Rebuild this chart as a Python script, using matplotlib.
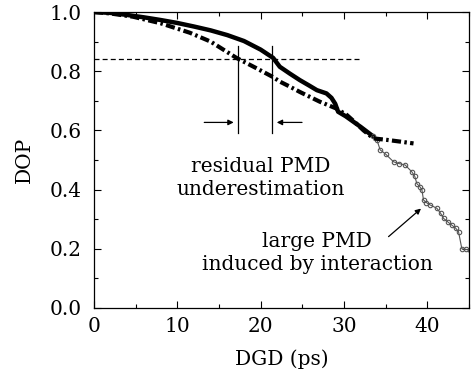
import matplotlib
matplotlib.use("Agg")
import matplotlib.pyplot as plt
from matplotlib.ticker import MultipleLocator, FormatStrFormatter

plt.rcParams['font.family'] = ['DejaVu Serif']

# solid curve (measured DOP), dense part
solid_x = [0, 2, 4, 6, 8, 10, 12, 14, 16, 18, 20, 21.5, 22.3, 23.5, 24.7, 25.8, 26.75, 27.9, 28.5, 28.95, 29.3, 30.2, 31.1, 32.0, 32.75, 33.5]
solid_y = [1.0, 0.997, 0.99, 0.982, 0.973, 0.963, 0.951, 0.938, 0.922, 0.902, 0.873, 0.845, 0.815, 0.792, 0.77, 0.752, 0.736, 0.725, 0.71, 0.69, 0.663, 0.648, 0.63, 0.612, 0.596, 0.58]
# solid curve tail (sparse circles)
tail_x = [33.5, 33.95, 34.35, 35.0, 35.95, 36.6, 37.35, 38.15, 38.5, 38.75, 39.1, 39.35, 39.55, 39.9, 40.35, 41.15, 41.6, 41.95, 42.5, 42.95, 43.4, 43.75, 44.15, 44.6, 45.1]
tail_y = [0.58, 0.568, 0.534, 0.52, 0.494, 0.488, 0.483, 0.46, 0.445, 0.42, 0.41, 0.40, 0.365, 0.356, 0.348, 0.337, 0.32, 0.303, 0.29, 0.28, 0.27, 0.258, 0.20, 0.198, 0.196]
# dash-dot curve
dd_x = [0, 2, 4.7, 8, 11.5, 14, 17.1, 19.5, 21.5, 22.3, 23.5, 24.7, 27.1, 29.0, 30.35, 31.3, 32.35, 33.55, 35.15, 36.8, 38.35]
dd_y = [1.0, 0.995, 0.984, 0.962, 0.93, 0.9, 0.845, 0.81, 0.78, 0.765, 0.748, 0.73, 0.697, 0.675, 0.652, 0.628, 0.60, 0.573, 0.568, 0.562, 0.556]

ref_level = 0.84
ref_xmax = 32
vlines_x = [17.25, 21.4]
vline_range = (0.59, 0.885)

label1 = ['residual PMD', 'underestimation']
label2 = ['large PMD', 'induced by interaction']

fig = plt.figure(figsize=(4.71, 3.78), dpi=100)
ax = fig.add_axes([0.1996, 0.1852, 0.796, 0.783])

ax.plot(solid_x, solid_y, color='black', lw=3.2, solid_capstyle='round')
ax.plot(tail_x, tail_y, color='#555555', lw=0.8, marker='o', ms=3.2, mfc='none', mec='#555555', mew=0.8)
ax.plot(dd_x, dd_y, color='black', lw=3.0, linestyle=(0, (2.2, 0.8, 0.6, 0.8)))

ax.plot([0, ref_xmax], [ref_level, ref_level], color='black', lw=0.9, linestyle=(0, (4, 2.5)))
for vx in vlines_x:
    ax.plot([vx, vx], list(vline_range), color='black', lw=0.9)

ax.annotate('', xy=(17.1, 0.627), xytext=(12.9, 0.627),
            arrowprops=dict(arrowstyle='-|>', color='black', lw=0.9, mutation_scale=8))
ax.annotate('', xy=(21.6, 0.627), xytext=(25.3, 0.627),
            arrowprops=dict(arrowstyle='-|>', color='black', lw=0.9, mutation_scale=8))
ax.annotate('', xy=(39.5, 0.342), xytext=(35.1, 0.235),
            arrowprops=dict(arrowstyle='-|>', color='black', lw=0.9, mutation_scale=8))

fs_txt = 14.5
ax.text(20.0, 0.4605, label1[0], ha='center', va='baseline', fontsize=fs_txt)
ax.text(20.0, 0.382, label1[1], ha='center', va='baseline', fontsize=fs_txt)
ax.text(26.8, 0.207, label2[0], ha='center', va='baseline', fontsize=fs_txt)
ax.text(26.8, 0.128, label2[1], ha='center', va='baseline', fontsize=fs_txt)

ax.set_xlim(0, 45)
ax.set_ylim(0, 1.0)
ax.xaxis.set_major_locator(MultipleLocator(10))
ax.xaxis.set_minor_locator(MultipleLocator(5))
ax.yaxis.set_major_locator(MultipleLocator(0.2))
ax.yaxis.set_minor_locator(MultipleLocator(0.1))
ax.yaxis.set_major_formatter(FormatStrFormatter('%.1f'))
ax.tick_params(which='both', direction='in', top=True, right=True, labelsize=14.5, width=0.8)
ax.tick_params(which='major', length=5)
ax.tick_params(which='minor', length=3)
ax.tick_params(axis='x', which='major', pad=6.5)
ax.tick_params(axis='y', which='major', pad=9)
for s in ax.spines.values():
    s.set_linewidth(0.9)
ax.set_xlabel('DGD (ps)', fontsize=14.5)
ax.set_ylabel('DOP', fontsize=14.5)
ax.xaxis.set_label_coords(0.5, -0.14)
ax.yaxis.set_label_coords(-0.16, 0.5)

fig.savefig('out.png', dpi=100)
